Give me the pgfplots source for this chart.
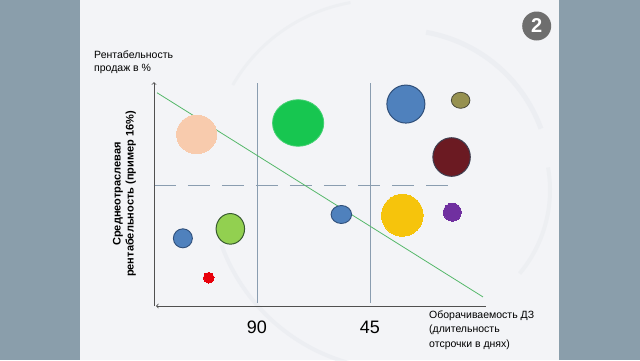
\documentclass[border=0pt]{standalone}
\usepackage{pgfplots}
\pgfplotsset{compat=1.18}
\usepackage{fontspec}
\setmainfont{Liberation Sans}
\definecolor{sidebar}{HTML}{8A9EAB}
\definecolor{slidebg}{HTML}{F3F4F7}
\definecolor{decor}{HTML}{E6E9EE}
\definecolor{axisgray}{HTML}{505050}
\definecolor{sepline}{HTML}{8A9DB0}
\definecolor{diag}{HTML}{55B86A}
\definecolor{cpeach}{HTML}{F8CBAD}
\definecolor{cgreen}{HTML}{17C650}
\definecolor{cblue}{HTML}{4F81BD}
\definecolor{cblueb}{HTML}{2F4F7A}
\definecolor{colive}{HTML}{969150}
\definecolor{coliveb}{HTML}{4A4A3A}
\definecolor{cdred}{HTML}{6B1A22}
\definecolor{cdredb}{HTML}{3E3E50}
\definecolor{cyellow}{HTML}{F6C40C}
\definecolor{cpurple}{HTML}{7030A0}
\definecolor{clgreen}{HTML}{92D050}
\definecolor{clgreenb}{HTML}{375A2F}
\definecolor{cred}{HTML}{E8000B}
\definecolor{badge}{HTML}{6E6E6E}
\begin{document}
\begin{tikzpicture}[x=1pt,y=1pt]
\useasboundingbox (0,0) rectangle (640,360);
\fill[sidebar] (0,0) rectangle (640,360);
\fill[slidebg] (80,0) rectangle (559,360);
\begin{scope}
\clip (80,0) rectangle (559,360);
\draw[decor, line width=5pt, opacity=0.5] (400,180) ++(20:150) arc (20:80:150);
\draw[decor, line width=4pt, opacity=0.5] (400,180) ++(200:190) arc (200:260:190);
\draw[decor, line width=4pt, opacity=0.45] (420,170) ++(-40:130) arc (-40:10:130);
\draw[decor, line width=3pt, opacity=0.45] (380,190) ++(100:170) arc (100:150:170);
\end{scope}
% badge
\fill[badge] (536.7,334) circle (14.5);
\node[white, font=\bfseries\fontsize{20}{20}\selectfont] at (536.7,334) {2};
% texts
\node[anchor=west, align=left, font=\fontsize{10.5}{13.5}\selectfont, inner sep=0] at (94,298) {Рентабельность\\продаж в \%};
\node[rotate=90, font=\bfseries\fontsize{11}{13}\selectfont, align=center, inner sep=0] at (124.5,166) {Среднеотраслевая\\рентабельность (пример 16\%)};
\node[anchor=west, align=left, font=\fontsize{10.5}{14.5}\selectfont, inner sep=0] at (429,30) {Оборачиваемость ДЗ\\(длительность\\отсрочки в днях)};
\begin{axis}[
  at={(154pt,54pt)}, anchor=south west,
  scale only axis, width=331.5pt, height=223.1pt,
  xmin=-1, xmax=131, ymin=0, ymax=29.5,
  x dir=reverse, enlargelimits=false, clip=false,
  axis line style={draw=none},
  major tick length=0pt,
  ytick=\empty,
  xtick={90,45}, xticklabels={90,45},
  xticklabel style={anchor=center, yshift=-21pt, font=\fontsize{18}{18}\selectfont},
  /pgf/number format/assume math mode=true,
]
% separators
\addplot[sepline, line width=0.8pt] coordinates {(90,0.4) (90,29.5)};
\addplot[sepline, line width=0.8pt] coordinates {(45,0.4) (45,29.5)};
\addplot[sepline, line width=0.8pt, dash pattern=on 22pt off 12pt] coordinates {(131,16) (9.2,16)};
% axes
\draw[axisgray, line width=0.8pt, ->] (axis cs:131,0) -- (axis cs:131,29.6);
\draw[axisgray, line width=0.8pt, ->] (axis cs:-1,0) -- (axis cs:130.2,0);
% diagonal
\addplot[diag, line width=0.8pt] coordinates {(129.8,28.2) (0,1.2)};
% bubbles
\addplot[only marks, mark=*, color=cpeach, mark size=19.3, mark options={fill=cpeach, draw=cpeach, line width=0pt, xscale=1.04}] coordinates {(114.0,22.7)};
\addplot[only marks, mark=*, color=cgreen, mark size=23.3, mark options={fill=cgreen, draw=cgreen!80!white, line width=0.8pt, xscale=1.1}] coordinates {(73.6,24.2)};
\addplot[only marks, mark=*, color=cblueb, mark size=19, mark options={fill=cblue, draw=cblueb, line width=1pt}] coordinates {(30.7,26.7)};
\addplot[only marks, mark=*, color=coliveb, mark size=8, mark options={fill=colive, draw=coliveb, line width=0.8pt, xscale=1.16}] coordinates {(8.9,27.2)};
\addplot[only marks, mark=*, color=cdredb, mark size=19.3, mark options={fill=cdred, draw=cdredb, line width=1pt, xscale=0.97}] coordinates {(12.5,19.7)};
\addplot[only marks, mark=*, color=cblueb, mark size=9, mark options={fill=cblue, draw=cblueb, line width=0.9pt, xscale=1.14}] coordinates {(56.4,12.1)};
\addplot[only marks, mark=*, color=cyellow, mark size=21, mark options={fill=cyellow, draw=cyellow, line width=0pt, xscale=0.99}] coordinates {(32.1,12.0)};
\addplot[only marks, mark=*, color=cpurple, mark size=9, mark options={fill=cpurple, draw=cpurple, line width=0pt}] coordinates {(12.2,12.4)};
\addplot[only marks, mark=*, color=cblueb, mark size=9.5, mark options={fill=cblue, draw=cblueb, line width=0.9pt}] coordinates {(119.5,8.95)};
\addplot[only marks, mark=*, color=clgreenb, mark size=15.3, mark options={fill=clgreen, draw=clgreenb, line width=1pt, xscale=0.93}] coordinates {(100.6,10.2)};
\addplot[only marks, mark=*, color=cred, mark size=5.3, mark options={fill=cred, draw=cred, line width=0pt}] coordinates {(109.2,3.74)};
\end{axis}
\end{tikzpicture}
\end{document}
